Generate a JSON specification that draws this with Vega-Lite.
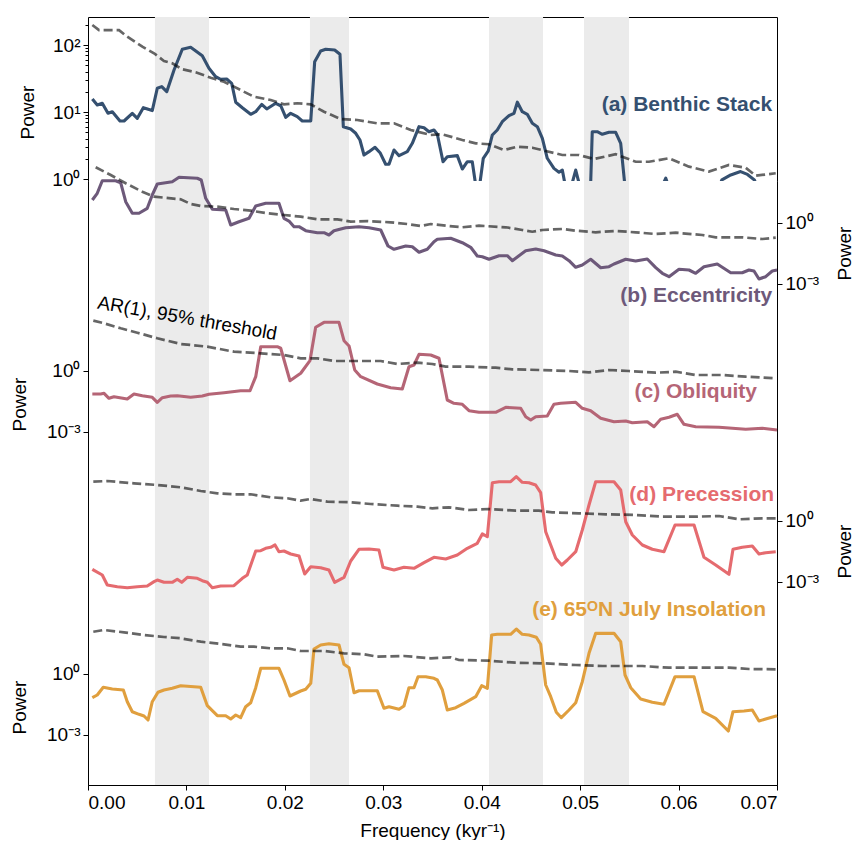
{
 "$schema": "https://vega.github.io/schema/vega-lite/v6.json",
 "padding": {"left": 10, "top": 17, "right": 0, "bottom": 0},
 "spacing": 0,
 "bounds": "flush",
 "config": {
  "view": {"stroke": null},
  "font": "Liberation Sans",
  "axis": {"domainColor": "black", "tickColor": "black", "labelColor": "black", "titleColor": "black", "labelFontSize": 19, "titleFontSize": 19, "titleFontWeight": "normal", "tickSize": 5, "grid": false, "labelFont": "Liberation Sans", "titleFont": "Liberation Sans", "labelPadding": 3}
 },
 "datasets": {
  "bands": [{"f":0.0068,"f2":0.01229},{"f":0.02255,"f2":0.02652},{"f":0.04074,"f2":0.04623},{"f":0.05039,"f2":0.05496}],
  "a_spec": [{"f":0.00044,"p":15.6},{"f":0.00094,"p":12.7},{"f":0.00145,"p":13.5},{"f":0.00203,"p":9.57},{"f":0.00247,"p":10.1},{"f":0.00325,"p":7.34},{"f":0.00366,"p":7.34},{"f":0.0045,"p":9.57},{"f":0.00501,"p":8.05},{"f":0.00562,"p":11.6},{"f":0.00653,"p":10.5},{"f":0.00704,"p":22.6},{"f":0.00749,"p":23.9},{"f":0.008,"p":20.1},{"f":0.00874,"p":42.4},{"f":0.00958,"p":86.3},{"f":0.01043,"p":92.5},{"f":0.01161,"p":69.2},{"f":0.01229,"p":44.9},{"f":0.01297,"p":33.6},{"f":0.01348,"p":30.8},{"f":0.01409,"p":31.1},{"f":0.0146,"p":26.8},{"f":0.01501,"p":14.0},{"f":0.01568,"p":11.6},{"f":0.01653,"p":9.24},{"f":0.01704,"p":10.1},{"f":0.01765,"p":13.0},{"f":0.01816,"p":11.1},{"f":0.01907,"p":13.5},{"f":0.01958,"p":12.4},{"f":0.02009,"p":8.34},{"f":0.02059,"p":9.57},{"f":0.02126,"p":8.51},{"f":0.02177,"p":7.34},{"f":0.02263,"p":7.34},{"f":0.02303,"p":56.4},{"f":0.02364,"p":81.3},{"f":0.02415,"p":86.3},{"f":0.02506,"p":84.2},{"f":0.0256,"p":72.6},{"f":0.02594,"p":6.04},{"f":0.02669,"p":5.57},{"f":0.0272,"p":4.81},{"f":0.02763,"p":3.82},{"f":0.02804,"p":2.28},{"f":0.02855,"p":2.56},{"f":0.02916,"p":2.97},{"f":0.02967,"p":2.47},{"f":0.03024,"p":1.66},{"f":0.03058,"p":1.66},{"f":0.03109,"p":2.71},{"f":0.0316,"p":2.23},{"f":0.03244,"p":2.56},{"f":0.03295,"p":3.41},{"f":0.03363,"p":6.04},{"f":0.03414,"p":5.83},{"f":0.03464,"p":5.08},{"f":0.03515,"p":5.39},{"f":0.03549,"p":4.65},{"f":0.03607,"p":1.81},{"f":0.0365,"p":2.15},{"f":0.03752,"p":2.23},{"f":0.03803,"p":1.41},{"f":0.03854,"p":1.81},{"f":0.03904,"p":1.81},{"f":0.0396,"p":0.5},{"f":0.04016,"p":2.04},{"f":0.04067,"p":2.62},{"f":0.04108,"p":4.54},{"f":0.04158,"p":5.39},{"f":0.04209,"p":7.16},{"f":0.04277,"p":8.81},{"f":0.04328,"p":9.57},{"f":0.04362,"p":14.0},{"f":0.04412,"p":10.1},{"f":0.04463,"p":9.24},{"f":0.04514,"p":6.78},{"f":0.04565,"p":6.04},{"f":0.04616,"p":4.05},{"f":0.04666,"p":2.04},{"f":0.04734,"p":1.44},{"f":0.04785,"p":1.26},{"f":0.04819,"p":1.36},{"f":0.04875,"p":0.5},{"f":0.04955,"p":1.36},{"f":0.0503,"p":0.5},{"f":0.051,"p":0.4},{"f":0.05123,"p":5.08},{"f":0.05174,"p":5.08},{"f":0.05225,"p":4.65},{"f":0.05293,"p":4.98},{"f":0.05361,"p":4.98},{"f":0.05412,"p":3.41},{"f":0.05463,"p":0.6},{"f":0.0555,"p":0.5},{"f":0.058,"p":0.6},{"f":0.0587,"p":1.03},{"f":0.0594,"p":0.5},{"f":0.0636,"p":0.5},{"f":0.0644,"p":0.97},{"f":0.0653,"p":1.15},{"f":0.0663,"p":1.29},{"f":0.067,"p":1.17},{"f":0.0677,"p":0.97},{"f":0.0685,"p":0.5},{"f":0.07,"p":0.5}],
  "a_ar": [{"f":0.00044,"p":199},{"f":0.00112,"p":167},{"f":0.00315,"p":167},{"f":0.00399,"p":133},{"f":0.00552,"p":94.4},{"f":0.00671,"p":75.2},{"f":0.00772,"p":57.7},{"f":0.00856,"p":53.3},{"f":0.00958,"p":43.4},{"f":0.01094,"p":39.2},{"f":0.01247,"p":32.5},{"f":0.01382,"p":28.3},{"f":0.01483,"p":23.9},{"f":0.01686,"p":16.9},{"f":0.01856,"p":15.1},{"f":0.01991,"p":13.0},{"f":0.02126,"p":13.5},{"f":0.02263,"p":13.0},{"f":0.02398,"p":10.1},{"f":0.02567,"p":7.86},{"f":0.02736,"p":7.6},{"f":0.02939,"p":6.78},{"f":0.03109,"p":6.78},{"f":0.03279,"p":5.39},{"f":0.03482,"p":4.54},{"f":0.036,"p":4.65},{"f":0.03803,"p":3.82},{"f":0.03939,"p":3.41},{"f":0.04074,"p":3.3},{"f":0.04226,"p":2.71},{"f":0.04362,"p":3.03},{"f":0.04514,"p":2.93},{"f":0.0465,"p":2.62},{"f":0.04819,"p":2.28},{"f":0.04988,"p":2.28},{"f":0.05141,"p":1.99},{"f":0.05361,"p":2.34},{"f":0.05564,"p":1.81},{"f":0.057,"p":1.81},{"f":0.05903,"p":2.04},{"f":0.06106,"p":1.53},{"f":0.06309,"p":1.29},{"f":0.06512,"p":1.62},{"f":0.06682,"p":1.47},{"f":0.06784,"p":1.12},{"f":0.06987,"p":1.22}],
  "b_spec": [{"f":0.00044,"p":13.5},{"f":0.00094,"p":28.9},{"f":0.00145,"p":120},{"f":0.00281,"p":120},{"f":0.00332,"p":95.9},{"f":0.00383,"p":11.2},{"f":0.0045,"p":3.0},{"f":0.00518,"p":3.0},{"f":0.00602,"p":5.28},{"f":0.00653,"p":23.8},{"f":0.00704,"p":82.8},{"f":0.00856,"p":107},{"f":0.00925,"p":177},{"f":0.0111,"p":158},{"f":0.01151,"p":130},{"f":0.01196,"p":16.4},{"f":0.01263,"p":4.72},{"f":0.01399,"p":4.36},{"f":0.0145,"p":0.797},{"f":0.01534,"p":1.16},{"f":0.01636,"p":1.7},{"f":0.01704,"p":6.86},{"f":0.01805,"p":9.31},{"f":0.0194,"p":9.31},{"f":0.01991,"p":1.7},{"f":0.02042,"p":1.25},{"f":0.02093,"p":0.658},{"f":0.02144,"p":0.658},{"f":0.02212,"p":0.418},{"f":0.0233,"p":0.333},{"f":0.02398,"p":0.333},{"f":0.02448,"p":0.257},{"f":0.02499,"p":0.418},{"f":0.02618,"p":0.587},{"f":0.02753,"p":0.658},{"f":0.02855,"p":0.587},{"f":0.02974,"p":0.453},{"f":0.03048,"p":0.0739},{"f":0.03109,"p":0.0509},{"f":0.03228,"p":0.0739},{"f":0.03295,"p":0.0683},{"f":0.03363,"p":0.0362},{"f":0.03447,"p":0.0509},{"f":0.03515,"p":0.12},{"f":0.03549,"p":0.158},{"f":0.03685,"p":0.177},{"f":0.03803,"p":0.107},{"f":0.03888,"p":0.0638},{"f":0.03955,"p":0.0238},{"f":0.04006,"p":0.022},{"f":0.04074,"p":0.0164},{"f":0.04176,"p":0.0247},{"f":0.0426,"p":0.0247},{"f":0.04311,"p":0.014},{"f":0.04447,"p":0.0434},{"f":0.04549,"p":0.0526},{"f":0.04633,"p":0.0434},{"f":0.04752,"p":0.0267},{"f":0.04819,"p":0.0238},{"f":0.04887,"p":0.014},{"f":0.04955,"p":0.00662},{"f":0.05022,"p":0.00859},{"f":0.05107,"p":0.0164},{"f":0.05209,"p":0.00634},{"f":0.05293,"p":0.0071},{"f":0.05344,"p":0.00963},{"f":0.05463,"p":0.0164},{"f":0.05564,"p":0.0135},{"f":0.05682,"p":0.017},{"f":0.05768,"p":0.00634},{"f":0.05835,"p":0.00336},{"f":0.05903,"p":0.00229},{"f":0.06004,"p":0.00528},{"f":0.06106,"p":0.00488},{"f":0.06174,"p":0.00336},{"f":0.06258,"p":0.0071},{"f":0.06393,"p":0.00963},{"f":0.0653,"p":0.0036},{"f":0.06647,"p":0.0036},{"f":0.06715,"p":0.00488},{"f":0.06766,"p":0.00436},{"f":0.06817,"p":0.00176},{"f":0.06885,"p":0.00229},{"f":0.06952,"p":0.00436},{"f":0.07,"p":0.00488}],
  "b_ar": [{"f":0.00078,"p":548},{"f":0.00231,"p":229},{"f":0.00383,"p":89.6},{"f":0.00552,"p":34.6},{"f":0.00671,"p":19.7},{"f":0.00942,"p":14.6},{"f":0.01043,"p":8.6},{"f":0.01145,"p":6.86},{"f":0.01314,"p":6.34},{"f":0.01483,"p":4.88},{"f":0.01653,"p":4.03},{"f":0.01822,"p":3.0},{"f":0.01991,"p":2.47},{"f":0.02161,"p":2.04},{"f":0.0233,"p":1.52},{"f":0.02533,"p":1.52},{"f":0.02669,"p":1.16},{"f":0.02838,"p":1.25},{"f":0.03075,"p":1.08},{"f":0.03244,"p":0.893},{"f":0.0338,"p":0.712},{"f":0.03482,"p":0.893},{"f":0.03634,"p":0.737},{"f":0.03803,"p":0.615},{"f":0.03972,"p":0.737},{"f":0.04244,"p":0.615},{"f":0.04412,"p":0.453},{"f":0.04514,"p":0.373},{"f":0.04616,"p":0.453},{"f":0.04819,"p":0.507},{"f":0.04955,"p":0.418},{"f":0.05158,"p":0.349},{"f":0.05361,"p":0.404},{"f":0.05564,"p":0.349},{"f":0.05768,"p":0.288},{"f":0.05971,"p":0.333},{"f":0.06241,"p":0.257},{"f":0.06377,"p":0.198},{"f":0.06647,"p":0.198},{"f":0.06851,"p":0.163},{"f":0.06987,"p":0.189}],
  "c_spec": [{"f":0.00044,"p":0.0739},{"f":0.00129,"p":0.0739},{"f":0.00163,"p":0.08},{"f":0.00213,"p":0.0454},{"f":0.00264,"p":0.0545},{"f":0.00399,"p":0.042},{"f":0.00467,"p":0.0739},{"f":0.00552,"p":0.061},{"f":0.00653,"p":0.0509},{"f":0.00704,"p":0.0289},{"f":0.00755,"p":0.0486},{"f":0.0084,"p":0.0589},{"f":0.00907,"p":0.061},{"f":0.01043,"p":0.0509},{"f":0.01161,"p":0.0589},{"f":0.01229,"p":0.0714},{"f":0.01382,"p":0.0857},{"f":0.01551,"p":0.107},{"f":0.01646,"p":0.107},{"f":0.01704,"p":0.525},{"f":0.01755,"p":15.7},{"f":0.01923,"p":15.7},{"f":0.01958,"p":13.1},{"f":0.02052,"p":0.333},{"f":0.02161,"p":0.771},{"f":0.02255,"p":3.21},{"f":0.02313,"p":141},{"f":0.02398,"p":248},{"f":0.0255,"p":248},{"f":0.02601,"p":30.9},{"f":0.02652,"p":17.0},{"f":0.0271,"p":1.12},{"f":0.02771,"p":0.525},{"f":0.02939,"p":0.23},{"f":0.03075,"p":0.151},{"f":0.03193,"p":0.13},{"f":0.03261,"p":1.63},{"f":0.03312,"p":1.97},{"f":0.03363,"p":6.62},{"f":0.03482,"p":6.12},{"f":0.03566,"p":4.21},{"f":0.0365,"p":0.0375},{"f":0.03718,"p":0.0258},{"f":0.03803,"p":0.023},{"f":0.03871,"p":0.0112},{"f":0.03972,"p":0.00931},{"f":0.04142,"p":0.00931},{"f":0.04244,"p":0.0164},{"f":0.04396,"p":0.0146},{"f":0.04447,"p":0.00565},{"f":0.04498,"p":0.00389},{"f":0.04549,"p":0.00565},{"f":0.04666,"p":0.00612},{"f":0.04734,"p":0.023},{"f":0.04802,"p":0.0258},{"f":0.04955,"p":0.0289},{"f":0.05022,"p":0.0146},{"f":0.05107,"p":0.0112},{"f":0.05209,"p":0.00472},{"f":0.05344,"p":0.00321},{"f":0.05463,"p":0.00348},{"f":0.0553,"p":0.00287},{"f":0.05682,"p":0.00321},{"f":0.0575,"p":0.00182},{"f":0.05818,"p":0.00421},{"f":0.05903,"p":0.00528},{"f":0.05987,"p":0.00742},{"f":0.06055,"p":0.00239},{"f":0.06174,"p":0.00182},{"f":0.06411,"p":0.0017},{"f":0.06682,"p":0.00136},{"f":0.06851,"p":0.00152},{"f":0.07,"p":0.00125}],
  "c_ar": [{"f":0.00054,"p":298},{"f":0.00163,"p":222},{"f":0.00332,"p":126},{"f":0.00501,"p":76.6},{"f":0.00704,"p":40.6},{"f":0.00942,"p":21.3},{"f":0.01212,"p":15.7},{"f":0.01483,"p":8.9},{"f":0.01755,"p":7.42},{"f":0.01991,"p":6.12},{"f":0.02161,"p":4.21},{"f":0.0233,"p":4.21},{"f":0.02499,"p":3.1},{"f":0.02736,"p":3.1},{"f":0.02974,"p":3.1},{"f":0.03142,"p":2.21},{"f":0.03346,"p":2.56},{"f":0.03498,"p":2.21},{"f":0.03634,"p":1.63},{"f":0.03871,"p":1.63},{"f":0.04142,"p":1.45},{"f":0.04311,"p":1.21},{"f":0.04582,"p":1.12},{"f":0.04887,"p":1.0},{"f":0.0509,"p":0.863},{"f":0.05293,"p":1.12},{"f":0.05496,"p":1.0},{"f":0.05768,"p":0.825},{"f":0.05971,"p":0.924},{"f":0.06174,"p":0.636},{"f":0.06444,"p":0.636},{"f":0.06682,"p":0.525},{"f":0.06987,"p":0.438}],
  "d_spec": [{"f":0.00044,"p":0.00421},{"f":0.00145,"p":0.00221},{"f":0.00196,"p":0.000711},{"f":0.00298,"p":0.000587},{"f":0.00399,"p":0.000525},{"f":0.00501,"p":0.000587},{"f":0.00602,"p":0.000635},{"f":0.00671,"p":0.00104},{"f":0.00704,"p":0.00125},{"f":0.00772,"p":0.000966},{"f":0.00856,"p":0.000966},{"f":0.00907,"p":0.00136},{"f":0.00952,"p":0.000966},{"f":0.01009,"p":0.0017},{"f":0.0111,"p":0.00152},{"f":0.01161,"p":0.00116},{"f":0.01212,"p":0.000966},{"f":0.01263,"p":0.000525},{"f":0.01348,"p":0.000635},{"f":0.01483,"p":0.000658},{"f":0.01568,"p":0.00152},{"f":0.01618,"p":0.00221},{"f":0.01704,"p":0.0335},{"f":0.01755,"p":0.0346},{"f":0.01805,"p":0.0454},{"f":0.01856,"p":0.0509},{"f":0.019,"p":0.0661},{"f":0.0194,"p":0.0309},{"f":0.01991,"p":0.0335},{"f":0.02059,"p":0.0238},{"f":0.02144,"p":0.019},{"f":0.02202,"p":0.00247},{"f":0.02263,"p":0.00565},{"f":0.02364,"p":0.00505},{"f":0.02448,"p":0.00389},{"f":0.02506,"p":0.000966},{"f":0.02601,"p":0.0017},{"f":0.02669,"p":0.0108},{"f":0.02753,"p":0.0406},{"f":0.02855,"p":0.042},{"f":0.02956,"p":0.0375},{"f":0.02997,"p":0.00528},{"f":0.03109,"p":0.00389},{"f":0.0321,"p":0.00528},{"f":0.03312,"p":0.00472},{"f":0.03414,"p":0.00889},{"f":0.03515,"p":0.0164},{"f":0.03634,"p":0.0135},{"f":0.03752,"p":0.0213},{"f":0.03854,"p":0.0454},{"f":0.03955,"p":0.08},{"f":0.04006,"p":0.23},{"f":0.04057,"p":0.169},{"f":0.04108,"p":76.6},{"f":0.04176,"p":85.7},{"f":0.04294,"p":85.7},{"f":0.04351,"p":151},{"f":0.04412,"p":80.0},{"f":0.0448,"p":76.6},{"f":0.04548,"p":59.0},{"f":0.04599,"p":24.7},{"f":0.0465,"p":0.298},{"f":0.04701,"p":0.0661},{"f":0.04752,"p":0.0146},{"f":0.04813,"p":0.00686},{"f":0.0487,"p":0.0121},{"f":0.04955,"p":0.0309},{"f":0.05022,"p":0.361},{"f":0.0509,"p":6.12},{"f":0.05158,"p":85.7},{"f":0.05344,"p":85.7},{"f":0.05412,"p":33.5},{"f":0.05463,"p":0.924},{"f":0.0553,"p":0.205},{"f":0.05632,"p":0.0661},{"f":0.05733,"p":0.0406},{"f":0.05852,"p":0.0309},{"f":0.05964,"p":0.636},{"f":0.06157,"p":0.636},{"f":0.06258,"p":0.0164},{"f":0.06377,"p":0.00686},{"f":0.06512,"p":0.00239},{"f":0.06553,"p":0.0406},{"f":0.06647,"p":0.0509},{"f":0.06749,"p":0.0589},{"f":0.06817,"p":0.0238},{"f":0.06885,"p":0.0276},{"f":0.06987,"p":0.0309}],
  "d_ar": [{"f":0.00054,"p":85.7},{"f":0.00196,"p":92.7},{"f":0.00467,"p":71.4},{"f":0.00704,"p":59.0},{"f":0.00942,"p":45.4},{"f":0.01145,"p":29.9},{"f":0.01314,"p":23.0},{"f":0.01483,"p":20.6},{"f":0.01653,"p":20.6},{"f":0.01856,"p":14.6},{"f":0.02025,"p":13.1},{"f":0.02161,"p":9.96},{"f":0.02263,"p":12.1},{"f":0.02431,"p":8.9},{"f":0.02669,"p":8.31},{"f":0.02872,"p":6.86},{"f":0.03142,"p":5.65},{"f":0.03346,"p":5.05},{"f":0.03498,"p":4.21},{"f":0.03668,"p":4.72},{"f":0.03871,"p":3.48},{"f":0.04074,"p":3.89},{"f":0.04345,"p":3.21},{"f":0.04582,"p":3.21},{"f":0.04717,"p":2.68},{"f":0.04988,"p":2.39},{"f":0.0526,"p":2.14},{"f":0.05564,"p":1.97},{"f":0.05835,"p":1.63},{"f":0.06174,"p":1.63},{"f":0.06411,"p":1.76},{"f":0.06614,"p":1.21},{"f":0.06851,"p":1.36},{"f":0.06987,"p":1.36}],
  "e_spec": [{"f":0.00044,"p":0.0683},{"f":0.00094,"p":0.0927},{"f":0.00155,"p":0.222},{"f":0.00247,"p":0.183},{"f":0.00359,"p":0.163},{"f":0.00399,"p":0.0434},{"f":0.0045,"p":0.014},{"f":0.00518,"p":0.0104},{"f":0.00569,"p":0.00859},{"f":0.0061,"p":0.00547},{"f":0.00653,"p":0.0434},{"f":0.00711,"p":0.126},{"f":0.00772,"p":0.163},{"f":0.00856,"p":0.198},{"f":0.00942,"p":0.266},{"f":0.01145,"p":0.222},{"f":0.01212,"p":0.0276},{"f":0.01314,"p":0.00889},{"f":0.01399,"p":0.00889},{"f":0.0145,"p":0.00612},{"f":0.01501,"p":0.00963},{"f":0.01551,"p":0.0071},{"f":0.01602,"p":0.0247},{"f":0.01653,"p":0.0388},{"f":0.01704,"p":0.212},{"f":0.01755,"p":1.91},{"f":0.0194,"p":1.91},{"f":0.01991,"p":0.507},{"f":0.02052,"p":0.0828},{"f":0.02161,"p":0.146},{"f":0.02212,"p":0.177},{"f":0.02263,"p":0.349},{"f":0.02296,"p":17.0},{"f":0.02364,"p":26.7},{"f":0.02448,"p":30.9},{"f":0.0255,"p":26.7},{"f":0.02601,"p":3.0},{"f":0.02652,"p":2.04},{"f":0.02703,"p":0.12},{"f":0.02753,"p":0.151},{"f":0.02939,"p":0.151},{"f":0.03007,"p":0.0206},{"f":0.03058,"p":0.0247},{"f":0.0316,"p":0.0184},{"f":0.0321,"p":0.0267},{"f":0.03261,"p":0.212},{"f":0.03312,"p":0.212},{"f":0.03353,"p":0.737},{"f":0.03431,"p":0.737},{"f":0.03515,"p":0.615},{"f":0.03549,"p":0.507},{"f":0.036,"p":0.163},{"f":0.0365,"p":0.017},{"f":0.03736,"p":0.022},{"f":0.0382,"p":0.0362},{"f":0.03939,"p":0.0765},{"f":0.04,"p":0.266},{"f":0.04057,"p":0.198},{"f":0.04101,"p":82.8},{"f":0.04158,"p":89.6},{"f":0.04294,"p":89.6},{"f":0.04351,"p":163},{"f":0.04412,"p":89.6},{"f":0.0448,"p":82.8},{"f":0.04555,"p":63.8},{"f":0.04599,"p":28.9},{"f":0.0465,"p":0.288},{"f":0.04701,"p":0.0765},{"f":0.04758,"p":0.0131},{"f":0.04809,"p":0.0071},{"f":0.04887,"p":0.017},{"f":0.04955,"p":0.0388},{"f":0.05022,"p":0.418},{"f":0.0509,"p":10.4},{"f":0.05158,"p":100},{"f":0.05344,"p":100},{"f":0.05412,"p":38.8},{"f":0.05456,"p":0.893},{"f":0.05514,"p":0.212},{"f":0.05615,"p":0.0589},{"f":0.05733,"p":0.0406},{"f":0.05852,"p":0.0324},{"f":0.05964,"p":0.737},{"f":0.06157,"p":0.737},{"f":0.06248,"p":0.014},{"f":0.06377,"p":0.00662},{"f":0.06505,"p":0.00157},{"f":0.06553,"p":0.014},{"f":0.06665,"p":0.0151},{"f":0.06749,"p":0.017},{"f":0.06817,"p":0.00488},{"f":0.06885,"p":0.00612},{"f":0.07,"p":0.00889}],
  "e_ar": [{"f":0.00054,"p":120},{"f":0.00163,"p":146},{"f":0.00366,"p":112},{"f":0.00569,"p":82.8},{"f":0.00772,"p":66.1},{"f":0.00942,"p":57.0},{"f":0.01145,"p":38.8},{"f":0.01382,"p":28.9},{"f":0.01551,"p":22.0},{"f":0.01686,"p":22.0},{"f":0.01856,"p":18.4},{"f":0.02025,"p":18.4},{"f":0.02161,"p":13.5},{"f":0.02398,"p":13.5},{"f":0.02601,"p":10.4},{"f":0.02804,"p":9.31},{"f":0.02939,"p":7.1},{"f":0.0321,"p":7.68},{"f":0.03482,"p":5.92},{"f":0.03685,"p":6.62},{"f":0.03769,"p":4.88},{"f":0.04074,"p":4.51},{"f":0.04345,"p":3.59},{"f":0.04616,"p":3.36},{"f":0.04955,"p":2.77},{"f":0.05225,"p":2.47},{"f":0.05632,"p":2.47},{"f":0.05903,"p":2.04},{"f":0.06241,"p":2.04},{"f":0.06512,"p":2.04},{"f":0.06715,"p":1.76},{"f":0.06987,"p":1.7}]
 },
 "vconcat": [
  {
   "width": 689,
   "height": 164,
   "layer": [
    {"data": {"name": "bands"}, "mark": {"type": "rect", "color": "#ebebeb"},
     "encoding": {"x": {"field": "f", "type": "quantitative", "scale": {"domain": [0, 0.07], "nice": false, "zero": false}, "axis": {"orient": "top", "labels": false, "ticks": false, "domain": true, "title": null}}, "x2": {"field": "f2"}}},
    {"data": {"name": "a_spec"}, "mark": {"type": "line", "color": "#355070", "strokeWidth": 3.1, "strokeJoin": "round", "clip": true},
     "encoding": {"x": {"field": "f", "type": "quantitative", "scale": {"domain": [0, 0.07], "nice": false, "zero": false}},
      "y": {"field": "p", "type": "quantitative", "scale": {"type": "log", "domain": [0.9336, 261.8], "nice": false}, "axis": {"orient": "right", "ticks": false, "labels": false, "title": null, "domain": true}}}},
    {"data": {"name": "a_ar"}, "mark": {"type": "line", "color": "black", "opacity": 0.6, "strokeWidth": 2.7, "strokeDash": [9, 4], "clip": true},
     "encoding": {"x": {"field": "f", "type": "quantitative", "scale": {"domain": [0, 0.07], "nice": false, "zero": false}},
      "y": {"field": "p", "type": "quantitative", "scale": {"type": "log", "domain": [0.9336, 261.8], "nice": false}, "axis": {"orient": "left", "values": [1, 10, 100], "labelExpr": "datum.value >= 100 ? '10²' : datum.value >= 10 ? '10¹' : '10⁰'", "title": "Power", "titleAngle": 270, "titleBaseline": "middle", "titleAlign": "center", "titleX": -61, "titleY": 95, "domain": true}}}},
    {"data": {"values": [{}]}, "mark": {"type": "text", "text": "(a) Benthic Stack", "align": "right", "baseline": "middle", "fontSize": 21, "fontWeight": "bold", "color": "#355070"},
     "encoding": {"x": {"datum": 0.0695, "type": "quantitative", "scale": {"domain": [0, 0.07], "nice": false, "zero": false}},
      "y": {"datum": 12.7, "type": "quantitative", "scale": {"type": "log", "domain": [0.9336, 261.8], "nice": false}, "axis": {"orient": "left", "values": [2, 3, 4, 5, 6, 7, 8, 9, 20, 30, 40, 50, 60, 70, 80, 90, 200], "labels": false, "tickSize": 3, "domain": false, "title": null}}}}
   ],
   "resolve": {"axis": {"y": "independent"}}
  },
  {
   "width": 689,
   "height": 604,
   "layer": [
    {"data": {"name": "bands"}, "mark": {"type": "rect", "color": "#ebebeb"},
     "encoding": {"x": {"field": "f", "type": "quantitative", "scale": {"domain": [0, 0.07], "nice": false, "zero": false}, "axis": {"orient": "bottom", "values": [0, 0.01, 0.02, 0.03, 0.04, 0.05, 0.06, 0.07], "format": ".2f", "title": "Frequency (kyr⁻¹)", "titlePadding": 9}}, "x2": {"field": "f2"}}},
    {"data": {"name": "b_spec"}, "mark": {"type": "line", "color": "#6d597a", "strokeWidth": 3.1, "strokeJoin": "round"},
     "encoding": {"x": {"field": "f", "type": "quantitative", "scale": {"domain": [0, 0.07], "nice": false, "zero": false}},
      "y": {"field": "p", "type": "quantitative", "scale": {"type": "log", "domain": [2.291e-28, 116.3], "nice": false}, "axis": {"orient": "right", "values": [0.001, 1], "labelExpr": "datum.value >= 1 ? '10⁰' : '10⁻³'", "title": "Power", "titleAngle": 270, "titleBaseline": "middle", "titleAlign": "center", "titleX": 67, "titleY": 72, "domain": true}}}},
    {"data": {"name": "b_ar"}, "mark": {"type": "line", "color": "black", "opacity": 0.6, "strokeWidth": 2.7, "strokeDash": [9, 4]},
     "encoding": {"x": {"field": "f", "type": "quantitative", "scale": {"domain": [0, 0.07], "nice": false, "zero": false}},
      "y": {"field": "p", "type": "quantitative", "scale": {"type": "log", "domain": [2.291e-28, 116.3], "nice": false}, "axis": null}}},
    {"data": {"name": "c_spec"}, "mark": {"type": "line", "color": "#b56576", "strokeWidth": 3.1, "strokeJoin": "round"},
     "encoding": {"x": {"field": "f", "type": "quantitative", "scale": {"domain": [0, 0.07], "nice": false, "zero": false}},
      "y": {"field": "p", "type": "quantitative", "scale": {"type": "log", "domain": [4.355e-21, 2.208e9], "nice": false}, "axis": {"orient": "left", "values": [0.001, 1], "labelExpr": "datum.value >= 1 ? '10⁰' : '10⁻³'", "title": "Power", "titleAngle": 270, "titleBaseline": "middle", "titleAlign": "center", "titleX": -69, "titleY": 223, "domain": true}}}},
    {"data": {"name": "c_ar"}, "mark": {"type": "line", "color": "black", "opacity": 0.6, "strokeWidth": 2.7, "strokeDash": [9, 4]},
     "encoding": {"x": {"field": "f", "type": "quantitative", "scale": {"domain": [0, 0.07], "nice": false, "zero": false}},
      "y": {"field": "p", "type": "quantitative", "scale": {"type": "log", "domain": [4.355e-21, 2.208e9], "nice": false}, "axis": null}}},
    {"data": {"name": "d_spec"}, "mark": {"type": "line", "color": "#e56b6f", "strokeWidth": 3.1, "strokeJoin": "round"},
     "encoding": {"x": {"field": "f", "type": "quantitative", "scale": {"domain": [0, 0.07], "nice": false, "zero": false}},
      "y": {"field": "p", "type": "quantitative", "scale": {"type": "log", "domain": [1.038e-13, 5.26e16], "nice": false}, "axis": {"orient": "right", "values": [0.001, 1], "labelExpr": "datum.value >= 1 ? '10⁰' : '10⁻³'", "title": "Power", "titleAngle": 270, "titleBaseline": "middle", "titleAlign": "center", "titleX": 67, "titleY": 370, "domain": true}}}},
    {"data": {"name": "d_ar"}, "mark": {"type": "line", "color": "black", "opacity": 0.6, "strokeWidth": 2.7, "strokeDash": [9, 4]},
     "encoding": {"x": {"field": "f", "type": "quantitative", "scale": {"domain": [0, 0.07], "nice": false, "zero": false}},
      "y": {"field": "p", "type": "quantitative", "scale": {"type": "log", "domain": [1.038e-13, 5.26e16], "nice": false}, "axis": null}}},
    {"data": {"name": "e_spec"}, "mark": {"type": "line", "color": "#e09f3e", "strokeWidth": 3.1, "strokeJoin": "round"},
     "encoding": {"x": {"field": "f", "type": "quantitative", "scale": {"domain": [0, 0.07], "nice": false, "zero": false}},
      "y": {"field": "p", "type": "quantitative", "scale": {"type": "log", "domain": [3.475e-6, 1.762e24], "nice": false}, "axis": {"orient": "left", "values": [0.001, 1], "labelExpr": "datum.value >= 1 ? '10⁰' : '10⁻³'", "title": "Power", "titleAngle": 270, "titleBaseline": "middle", "titleAlign": "center", "titleX": -69, "titleY": 526, "domain": true}}}},
    {"data": {"name": "e_ar"}, "mark": {"type": "line", "color": "black", "opacity": 0.6, "strokeWidth": 2.7, "strokeDash": [9, 4]},
     "encoding": {"x": {"field": "f", "type": "quantitative", "scale": {"domain": [0, 0.07], "nice": false, "zero": false}},
      "y": {"field": "p", "type": "quantitative", "scale": {"type": "log", "domain": [3.475e-6, 1.762e24], "nice": false}, "axis": null}}},
    {"data": {"values": [{}]}, "mark": {"type": "text", "text": "(b) Eccentricity", "align": "right", "baseline": "middle", "fontSize": 21, "fontWeight": "bold", "color": "#6d597a"},
     "encoding": {"x": {"datum": 0.0695, "type": "quantitative", "scale": {"domain": [0, 0.07], "nice": false, "zero": false}},
      "y": {"datum": 0.000257, "type": "quantitative", "scale": {"type": "log", "domain": [2.291e-28, 116.3], "nice": false}, "axis": null}}},
    {"data": {"values": [{}]}, "mark": {"type": "text", "text": "(c) Obliquity", "align": "right", "baseline": "middle", "fontSize": 21, "fontWeight": "bold", "color": "#b56576"},
     "encoding": {"x": {"datum": 0.06797, "type": "quantitative", "scale": {"domain": [0, 0.07], "nice": false, "zero": false}},
      "y": {"datum": 0.0926, "type": "quantitative", "scale": {"type": "log", "domain": [4.355e-21, 2.208e9], "nice": false}, "axis": null}}},
    {"data": {"values": [{}]}, "mark": {"type": "text", "text": "AR(1), 95% threshold", "align": "center", "baseline": "middle", "fontSize": 19, "angle": 10, "color": "black"},
     "encoding": {"x": {"datum": 0.01009, "type": "quantitative", "scale": {"domain": [0, 0.07], "nice": false, "zero": false}},
      "y": {"datum": 391, "type": "quantitative", "scale": {"type": "log", "domain": [4.355e-21, 2.208e9], "nice": false}, "axis": null}}},
    {"data": {"values": [{}]}, "mark": {"type": "text", "text": "(d) Precession", "align": "right", "baseline": "middle", "fontSize": 21, "fontWeight": "bold", "color": "#e56b6f"},
     "encoding": {"x": {"datum": 0.0697, "type": "quantitative", "scale": {"domain": [0, 0.07], "nice": false, "zero": false}},
      "y": {"datum": 19.0, "type": "quantitative", "scale": {"type": "log", "domain": [1.038e-13, 5.26e16], "nice": false}, "axis": null}}},
    {"data": {"values": [{}]}, "mark": {"type": "text", "text": "(e) 65ᴼN July Insolation", "align": "right", "baseline": "middle", "fontSize": 21, "fontWeight": "bold", "color": "#e09f3e"},
     "encoding": {"x": {"datum": 0.06888, "type": "quantitative", "scale": {"domain": [0, 0.07], "nice": false, "zero": false}},
      "y": {"datum": 1406, "type": "quantitative", "scale": {"type": "log", "domain": [3.475e-6, 1.762e24], "nice": false}, "axis": null}}}
   ],
   "resolve": {"scale": {"y": "independent"}}
  }
 ]
}
